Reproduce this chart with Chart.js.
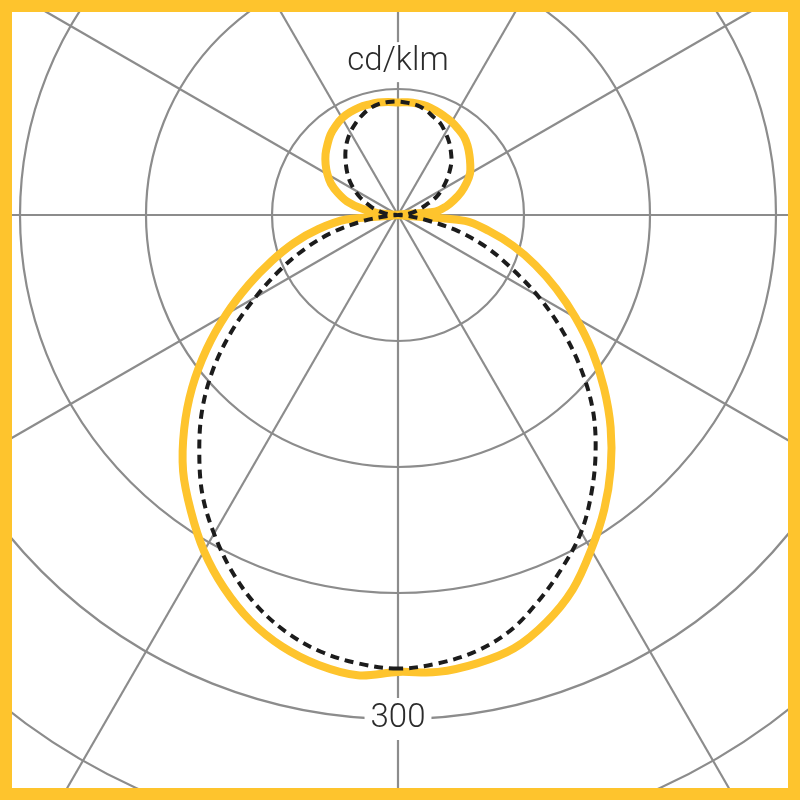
<!DOCTYPE html>
<html>
<head>
    <title>Polar light distribution</title>
    <script src="https://cdn.jsdelivr.net/npm/chart.js"></script>
    <style>
        body { margin: 0; background: #fff; }
        #frame { position: relative; width: 800px; height: 800px; overflow: hidden; background: #fff; }
        #myChart { position: absolute; left: -358px; top: -541px; }
        #border { position: absolute; left: 0; top: 0; width: 800px; height: 800px; box-sizing: border-box; border: 12px solid #fec42d; pointer-events: none; }
    </style>
</head>
<body>
<div id="frame">
    <canvas id="myChart" width="1512" height="1512"></canvas>
    <div id="border"></div>
</div>

<script>
    // gamma angles (0 = nadir, 180 = zenith), every 5 degrees
    var gammaAngles = [0, 5, 10, 15, 20, 25, 30, 35, 40, 45, 50, 55, 60, 65, 70, 75, 80, 85, 90,
        95, 100, 105, 110, 115, 120, 125, 130, 135, 140, 145, 150, 155, 160, 165, 170, 175, 180];

    // solid yellow curve, cd/klm (left half and right half of the diagram)
    var solidLeft = [272, 275, 272, 266, 257, 245, 231, 215, 199, 180, 160, 139, 118, 98, 80, 64, 48, 31, 0,
        12, 22, 31.5, 38, 44, 48.5, 52.6, 56.3, 59.4, 62.5, 64.7, 66.6, 67.5, 68, 68, 68, 67.5, 67];
    var solidRight = [272, 273, 271, 267, 258, 246, 230, 214, 197, 179, 160, 141, 122, 104, 87, 71, 55, 40, 0,
        22, 29, 34.5, 40, 45, 49.5, 52.5, 55.5, 58.5, 61, 62.5, 64, 65, 66, 67, 67.3, 67.3, 67];

    // dashed black curve, cd/klm
    var dashedLeft = [270, 268, 264, 257, 247, 234, 219, 203, 184, 165, 144, 121, 98, 77.5, 59, 41, 22, 6, 0,
        6, 10, 15, 19.5, 25, 30, 35, 39.5, 44, 48.7, 53, 56.8, 60, 63, 65.5, 67, 67.5, 67.5];
    var dashedRight = [270, 268, 264, 256.5, 244.5, 231.5, 218, 201, 183, 164, 142, 119, 96, 74, 56, 37, 17, 5, 0,
        5, 9, 13, 18, 25, 30, 35, 40, 45, 49, 53, 56.5, 60, 62, 64.5, 66.3, 67, 67];

    var ringLabels = [300];
    var unitLabel = "cd/klm";

    // radar goes clockwise from the bottom: left half first, then right half back down
    function toRadar(left, right) {
        var out = left.slice();
        for (var k = right.length - 2; k >= 1; k--) {
            out.push(right[k]);
        }
        return out;
    }

    var radarLabels = [];
    for (var i = 0; i < (gammaAngles.length - 1) * 2; i++) {
        radarLabels.push((i * 5) + "°");
    }

    var textPlugin = {
        id: "polarText",
        afterDraw: function (chart) {
            var s = chart.scales.r;
            var ctx = chart.ctx;
            ctx.save();
            ctx.font = '300 33px Roboto, "Liberation Sans", sans-serif';
            ctx.textAlign = "center";
            ctx.textBaseline = "middle";

            ringLabels.forEach(function (v) {
                var y = s.yCenter + s.getDistanceFromCenterForValue(v);
                var w = ctx.measureText(String(v)).width;
                ctx.fillStyle = "#fff";
                ctx.fillRect(s.xCenter - w / 2 - 6, y - 21, w + 12, 42);
                ctx.fillStyle = "#2b2b2b";
                ctx.fillText(String(v), s.xCenter, y);
            });

            var uy = s.yCenter - s.getDistanceFromCenterForValue(91);
            var uw = ctx.measureText(unitLabel).width;
            ctx.fillStyle = "#fff";
            ctx.fillRect(s.xCenter - uw / 2 - 6, uy - 20, uw + 12, 40);
            ctx.fillStyle = "#2b2b2b";
            ctx.fillText(unitLabel, s.xCenter, uy);
            ctx.restore();
        }
    };

    var ctx = document.getElementById("myChart").getContext("2d");
    new Chart(ctx, {
        type: "radar",
        data: {
            labels: radarLabels,
            datasets: [
                {
                    label: "C90-C270",
                    data: toRadar(dashedLeft, dashedRight),
                    borderColor: "#1c1c1c",
                    borderWidth: 4,
                    borderDash: [9, 6],
                    fill: false,
                    pointRadius: 0,
                    tension: 0.35
                },
                {
                    label: "C0-C180",
                    data: toRadar(solidLeft, solidRight),
                    borderColor: "#fec42d",
                    borderWidth: 8,
                    fill: false,
                    pointRadius: 0,
                    tension: 0.35
                }
            ]
        },
        options: {
            responsive: false,
            animation: false,
            layout: { padding: 0 },
            plugins: {
                legend: { display: false },
                tooltip: { enabled: false }
            },
            scales: {
                r: {
                    min: 0,
                    max: 450,
                    startAngle: 180,
                    ticks: { display: false, stepSize: 75 },
                    pointLabels: { display: false },
                    grid: { circular: true, color: "#8c8c8c", lineWidth: 2.2 },
                    angleLines: {
                        color: "#8c8c8c",
                        lineWidth: function (c) { return c.index % 6 === 0 ? 2.2 : 0; }
                    }
                }
            }
        },
        plugins: [textPlugin]
    });
</script>
</body>
</html>
